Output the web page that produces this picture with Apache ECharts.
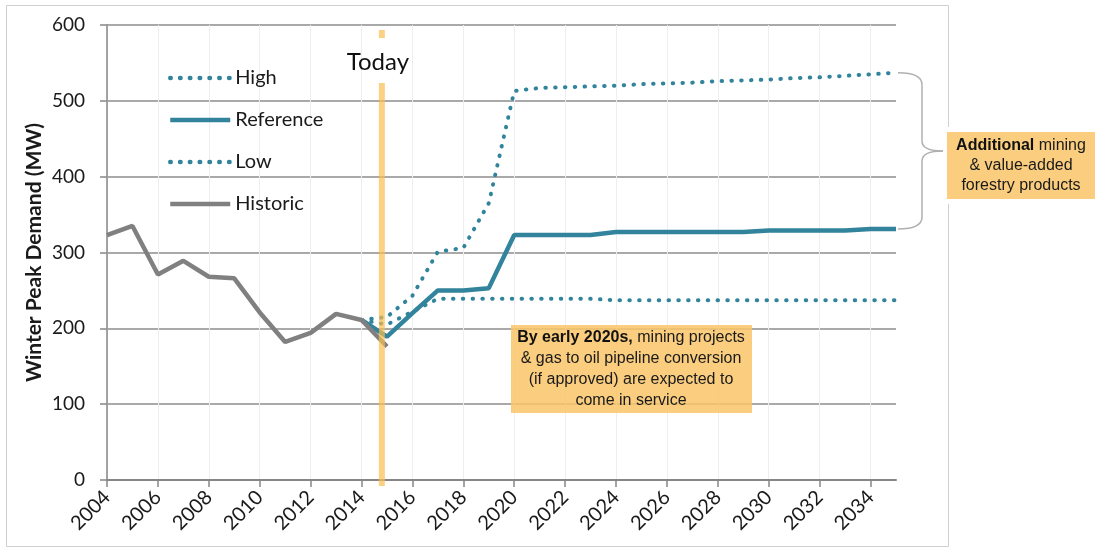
<!DOCTYPE html>
<html><head><meta charset="utf-8">
<script src="https://cdn.jsdelivr.net/npm/echarts@6/dist/echarts.min.js"></script>
<style>html,body{margin:0;padding:0;background:#fff}#c{width:1095px;height:550px}</style>
</head><body><div id="c"></div>
<script>
// ---- data ----
const historicYears  = [2004,2005,2006,2007,2008,2009,2010,2011,2012,2013,2014,2015];
const historicValues = [323,335,271,289,268,266,221,182,194,219,211,176];
const forecastYears  = [2014,2015,2016,2017,2018,2019,2020,2021,2022,2023,2024,2025,2026,2027,2028,2029,2030,2031,2032,2033,2034,2035];
const highValues      = [211,215,243,301,306,365,513,517,518,519,520,522,523,524,526,527,528,530,531,533,535,537];
const referenceValues = [211,189,220,250,250,253,323,323,323,323,327,327,327,327,327,327,329,329,329,329,331,331];
const lowValues       = [211,205,222,239,239,239,239,239,239,239,237,237,237,237,237,237,237,237,237,237,237,237];
const xTickLabels = ['2004','2006','2008','2010','2012','2014','2016','2018','2020','2022','2024','2026','2028','2030','2032','2034'];
const yTickLabels = ['0','100','200','300','400','500','600'];
const seriesNames = ['High','Reference','Low','Historic'];
const todayYear = 2014.8;
const todayLabel = 'Today';
const yAxisTitle = 'Winter Peak Demand (MW)';
const noteBottom = '{b|By early 2020s,} mining projects\n& gas to oil pipeline conversion\n(if approved) are expected to\ncome in service';
const noteRight = '{b|Additional} mining\n& value-added\nforestry products';

// ---- chart ----
const teal = '#31849B';
const grey = '#808080';
const font = 'Lato, "Open Sans", sans-serif';
const noteFont = '"Liberation Sans", Arial, sans-serif';
const dotted = {color: teal, width: 4, type: [0.5, 9.3], cap: 'round'};
const pair = (xs, vs) => xs.map((x, i) => [x, vs[i]]);
const xTickValues = xTickLabels.map(Number);

const chart = echarts.init(document.getElementById('c'));
chart.setOption({
  animation: false,
  backgroundColor: '#fff',
  grid: {left: 107, right: 199, top: 25, bottom: 70},
  legend: {
    orient: 'vertical', left: 163, top: 63,
    itemWidth: 60, itemHeight: 16, itemGap: 22,
    data: seriesNames,
    itemStyle: {color: 'rgba(0,0,0,0)', borderWidth: 0, opacity: 0},
    lineStyle: {width: 4.5},
    textStyle: {fontFamily: font, fontSize: 20, color: '#1a1a1a', lineHeight: 20}
  },
  xAxis: {
    type: 'value', min: 2004, max: 2035, interval: 2,
    axisLine: {lineStyle: {color: '#868686', width: 2}},
    axisTick: {show: true, length: 7, lineStyle: {color: '#868686', width: 1.5}, customValues: xTickValues},
    splitLine: {show: true, lineStyle: {color: '#eeeeee', width: 1}},
    axisLabel: {rotate: 45, margin: 14, fontFamily: font, fontSize: 20, color: '#1a1a1a',
      customValues: xTickValues, formatter: v => String(v)}
  },
  yAxis: {
    type: 'value', min: 0, max: 600, interval: 100,
    name: yAxisTitle, nameLocation: 'middle', nameGap: 62, nameMoveOverlap: false,
    nameTextStyle: {fontFamily: font, fontSize: 21, fontWeight: 'bold', color: '#1a1a1a'},
    axisLine: {show: true, lineStyle: {color: '#868686', width: 1.5}},
    axisTick: {show: true, length: 7, lineStyle: {color: '#868686', width: 1.5}},
    splitLine: {show: true, lineStyle: {color: '#8c8c8c', width: 1.5}},
    axisLabel: {margin: 22, fontFamily: font, fontSize: 19, color: '#1a1a1a',
      formatter: v => yTickLabels[yTickLabels.indexOf(String(v))] || String(v)}
  },
  series: [
    {name: 'High', type: 'line', symbol: 'none', data: pair(forecastYears, highValues), lineStyle: dotted, itemStyle: {color: teal}},
    {name: 'Reference', type: 'line', symbol: 'none', data: pair(forecastYears, referenceValues), lineStyle: {color: teal, width: 4.5}, itemStyle: {color: teal}},
    {name: 'Low', type: 'line', symbol: 'none', data: pair(forecastYears, lowValues), lineStyle: dotted, itemStyle: {color: teal}},
    {name: 'Historic', type: 'line', symbol: 'none', data: pair(historicYears, historicValues), lineStyle: {color: grey, width: 4.5}, itemStyle: {color: grey}}
  ]
});

// ---- annotations positioned through the chart's scales ----
const px = v => chart.convertToPixel({xAxisIndex: 0}, v);
const py = v => chart.convertToPixel({yAxisIndex: 0}, v);
const xT = px(todayYear);
const yTop = py(600), yZero = py(0);
const xEnd = px(forecastYears[forecastYears.length - 1]);
const yHi = py(highValues[highValues.length - 1]);
const yRef = py(referenceValues[referenceValues.length - 1]);
const yMid = (yHi + yRef) / 2;
const orange = 'rgba(250,190,80,0.70)';
const boxFill = 'rgba(249,196,105,0.85)';
const braceStyle = {fill: 'none', stroke: '#b0b0b0', lineWidth: 1.5};
const bx0 = xEnd + 2, bx1 = xEnd + 26, bx2 = xEnd + 47;
const curve = (x1, y1, cx, cy, x2, y2) => ({type: 'bezierCurve', silent: true, z: 40,
  shape: {x1: x1, y1: y1, cpx1: cx, cpy1: cy, x2: x2, y2: y2}, style: braceStyle});
const seg = (x1, y1, x2, y2) => ({type: 'line', silent: true, z: 40,
  shape: {x1: x1, y1: y1, x2: x2, y2: y2}, style: braceStyle});

chart.setOption({
  graphic: [
    {type: 'rect', silent: true, z: 0, shape: {x: 6.5, y: 5.5, width: 942, height: 541},
     style: {fill: 'none', stroke: '#d0d0d0', lineWidth: 1}},
    {type: 'rect', silent: true, z: 50, shape: {x: xT - 3, y: yTop + 5, width: 6, height: 8}, style: {fill: orange}},
    {type: 'rect', silent: true, z: 50, shape: {x: xT - 3, y: yTop + 58, width: 6, height: yZero + 6 - (yTop + 58)}, style: {fill: orange}},
    {type: 'text', silent: true, z: 60, x: xT - 4, y: yTop + 37,
     style: {text: todayLabel, fontFamily: font, fontSize: 24, fill: '#111', align: 'center', verticalAlign: 'middle'}},
    curve(bx0, yHi, bx1, yHi, bx1, yHi + 12),
    seg(bx1, yHi + 12, bx1, yMid - 10),
    curve(bx1, yMid - 10, bx1, yMid, bx2, yMid),
    curve(bx2, yMid, bx1, yMid, bx1, yMid + 10),
    seg(bx1, yMid + 10, bx1, yRef - 12),
    curve(bx1, yRef - 12, bx1, yRef, bx0, yRef),
    {type: 'rect', silent: true, z: 45, shape: {x: 944, y: 127, width: 151, height: 77}, style: {fill: '#fff'}},
    {type: 'rect', silent: true, z: 46, shape: {x: 947, y: 132, width: 148, height: 67}, style: {fill: boxFill}},
    {type: 'text', silent: true, z: 47, x: 1021, y: 166,
     style: {text: noteRight, fontFamily: noteFont, fontSize: 16, lineHeight: 20, fill: '#1a1a1a',
       align: 'center', verticalAlign: 'middle', rich: {b: {fontWeight: 'bold', fontSize: 16, fontFamily: noteFont, fill: '#111'}}}},
    {type: 'rect', silent: true, z: 46, shape: {x: 511, y: 325, width: 241, height: 88}, style: {fill: boxFill}},
    {type: 'text', silent: true, z: 47, x: 631, y: 369,
     style: {text: noteBottom, fontFamily: noteFont, fontSize: 16, lineHeight: 21, fill: '#1a1a1a',
       align: 'center', verticalAlign: 'middle', rich: {b: {fontWeight: 'bold', fontSize: 16, fontFamily: noteFont, fill: '#111'}}}}
  ]
});
</script>
</body></html>
